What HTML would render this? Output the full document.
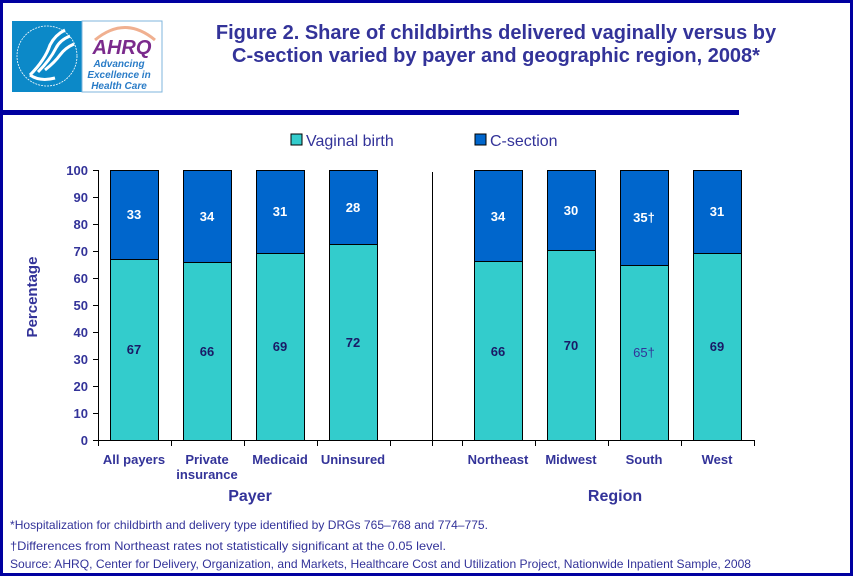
<!DOCTYPE html>
<html><head><meta charset="utf-8"><style>
body{margin:0;background:#fff;}
</style></head><body>
<svg width="853" height="576" xmlns="http://www.w3.org/2000/svg" font-family="Liberation Sans, Arial, sans-serif">
<rect x="1.5" y="1.5" width="850" height="573" fill="#fff" stroke="#0000A0" stroke-width="3"/>
<rect x="0" y="110" width="739" height="5" fill="#0000A0"/>
<rect x="12" y="21" width="70" height="71" fill="#0C89C8"/>
<path d="M30 75 Q45 60 50 45 Q55 35 65 30 M38 72 Q50 60 56 48 Q60 40 70 36 M45 70 Q55 62 60 55 Q65 48 74 44 M30 75 Q40 82 55 78" stroke="#fff" stroke-width="3" fill="none"/>
<circle cx="47" cy="56" r="30" fill="none" stroke="#fff" stroke-width="0.8" stroke-dasharray="2 1"/>
<rect x="82" y="21" width="80" height="71" fill="#fff" stroke="#7fb6dc" stroke-width="1"/>
<path d="M95 40 Q125 15 155 40" stroke="#f0b090" stroke-width="3" fill="none"/>
<text x="122" y="54" font-size="20" font-weight="bold" font-style="italic" fill="#7B2A8C" text-anchor="middle">AHRQ</text>
<text x="119" y="67" font-size="10" font-style="italic" font-weight="bold" fill="#2a7cc7" text-anchor="middle">Advancing</text>
<text x="119" y="78" font-size="10" font-style="italic" font-weight="bold" fill="#2a7cc7" text-anchor="middle">Excellence in</text>
<text x="119" y="89" font-size="10" font-style="italic" font-weight="bold" fill="#2a7cc7" text-anchor="middle">Health Care</text>
<text x="496" y="39" font-size="20" font-weight="bold" fill="#333399" text-anchor="middle">Figure 2. Share of childbirths delivered vaginally versus by</text>
<text x="496" y="62" font-size="20" font-weight="bold" fill="#333399" text-anchor="middle">C-section varied by payer and geographic region, 2008*</text>
<rect x="291" y="134" width="11" height="11" fill="#33CCCC" stroke="#000" stroke-width="1"/>
<text x="306" y="146" font-size="16" fill="#333399">Vaginal birth</text>
<rect x="475" y="134" width="11" height="11" fill="#0066CC" stroke="#000" stroke-width="1"/>
<text x="490" y="146" font-size="16" fill="#333399">C-section</text>
<g font-size="13" font-weight="bold" fill="#333399" text-anchor="end">
<text x="88" y="175">100</text><text x="88" y="202">90</text><text x="88" y="229">80</text><text x="88" y="256">70</text><text x="88" y="283">60</text><text x="88" y="310">50</text><text x="88" y="337">40</text><text x="88" y="364">30</text><text x="88" y="391">20</text><text x="88" y="418">10</text><text x="88" y="445">0</text>
</g>
<text transform="translate(37,297) rotate(-90)" font-size="15" font-weight="bold" fill="#333399" text-anchor="middle">Percentage</text>
<g stroke="#000" stroke-width="1">
<line x1="98.5" y1="170" x2="98.5" y2="440"/>
<line x1="93" y1="170.5" x2="98" y2="170.5"/><line x1="93" y1="197.5" x2="98" y2="197.5"/><line x1="93" y1="224.5" x2="98" y2="224.5"/><line x1="93" y1="251.5" x2="98" y2="251.5"/><line x1="93" y1="278.5" x2="98" y2="278.5"/><line x1="93" y1="305.5" x2="98" y2="305.5"/><line x1="93" y1="332.5" x2="98" y2="332.5"/><line x1="93" y1="359.5" x2="98" y2="359.5"/><line x1="93" y1="386.5" x2="98" y2="386.5"/><line x1="93" y1="413.5" x2="98" y2="413.5"/><line x1="93" y1="440.5" x2="98" y2="440.5"/>
<line x1="98" y1="440.5" x2="755" y2="440.5"/>
<line x1="432.5" y1="172" x2="432.5" y2="446"/>
<line x1="98.5" y1="440" x2="98.5" y2="446"/><line x1="171.5" y1="440" x2="171.5" y2="446"/><line x1="244.5" y1="440" x2="244.5" y2="446"/><line x1="317.5" y1="440" x2="317.5" y2="446"/><line x1="390.5" y1="440" x2="390.5" y2="446"/><line x1="462.5" y1="440" x2="462.5" y2="446"/><line x1="535.5" y1="440" x2="535.5" y2="446"/><line x1="608.5" y1="440" x2="608.5" y2="446"/><line x1="681.5" y1="440" x2="681.5" y2="446"/><line x1="754.5" y1="440" x2="754.5" y2="446"/>
</g>
<g stroke="#000" stroke-width="1">
<rect x="110.5" y="170.5" width="48" height="89" fill="#0066CC"/><rect x="110.5" y="259.5" width="48" height="181" fill="#33CCCC"/>
<rect x="183.5" y="170.5" width="48" height="92" fill="#0066CC"/><rect x="183.5" y="262.5" width="48" height="178" fill="#33CCCC"/>
<rect x="256.5" y="170.5" width="48" height="83" fill="#0066CC"/><rect x="256.5" y="253.5" width="48" height="187" fill="#33CCCC"/>
<rect x="329.5" y="170.5" width="48" height="74" fill="#0066CC"/><rect x="329.5" y="244.5" width="48" height="196" fill="#33CCCC"/>
<rect x="474.5" y="170.5" width="48" height="91" fill="#0066CC"/><rect x="474.5" y="261.5" width="48" height="179" fill="#33CCCC"/>
<rect x="547.5" y="170.5" width="48" height="80" fill="#0066CC"/><rect x="547.5" y="250.5" width="48" height="190" fill="#33CCCC"/>
<rect x="620.5" y="170.5" width="48" height="95" fill="#0066CC"/><rect x="620.5" y="265.5" width="48" height="175" fill="#33CCCC"/>
<rect x="693.5" y="170.5" width="48" height="83" fill="#0066CC"/><rect x="693.5" y="253.5" width="48" height="187" fill="#33CCCC"/>
</g>
<g font-size="13" font-weight="bold" fill="#fff" text-anchor="middle">
<text x="134" y="219">33</text><text x="207" y="221">34</text><text x="280" y="216">31</text><text x="353" y="212">28</text>
<text x="498" y="221">34</text><text x="571" y="215">30</text><text x="644" y="222">35†</text><text x="717" y="216">31</text>
</g>
<g font-size="13" font-weight="bold" fill="#1a1a66" text-anchor="middle">
<text x="134" y="354">67</text><text x="207" y="356">66</text><text x="280" y="351">69</text><text x="353" y="347">72</text>
<text x="498" y="356">66</text><text x="571" y="350">70</text><text x="717" y="351">69</text>
</g>
<text x="644" y="357" font-size="13" fill="#333399" text-anchor="middle">65†</text>
<g font-size="13" font-weight="bold" fill="#333399" text-anchor="middle">
<text x="134" y="464">All payers</text>
<text x="207" y="464">Private</text><text x="207" y="479">insurance</text>
<text x="280" y="464">Medicaid</text>
<text x="353" y="464">Uninsured</text>
<text x="498" y="464">Northeast</text><text x="571" y="464">Midwest</text><text x="644" y="464">South</text><text x="717" y="464">West</text>
</g>
<text x="250" y="501" font-size="16" font-weight="bold" fill="#333399" text-anchor="middle">Payer</text>
<text x="615" y="501" font-size="16" font-weight="bold" fill="#333399" text-anchor="middle">Region</text>
<g font-size="12" fill="#333399">
<text x="10" y="529" textLength="478" lengthAdjust="spacingAndGlyphs">*Hospitalization for childbirth and delivery type identified by DRGs 765–768 and 774–775.</text>
<text x="10" y="550" textLength="436" lengthAdjust="spacingAndGlyphs">†Differences from Northeast rates not statistically significant at the 0.05 level.</text>
<text x="10" y="568" textLength="741" lengthAdjust="spacingAndGlyphs">Source: AHRQ, Center for Delivery, Organization, and Markets, Healthcare Cost and Utilization Project, Nationwide Inpatient Sample, 2008</text>
</g>
</svg>
</body></html>
